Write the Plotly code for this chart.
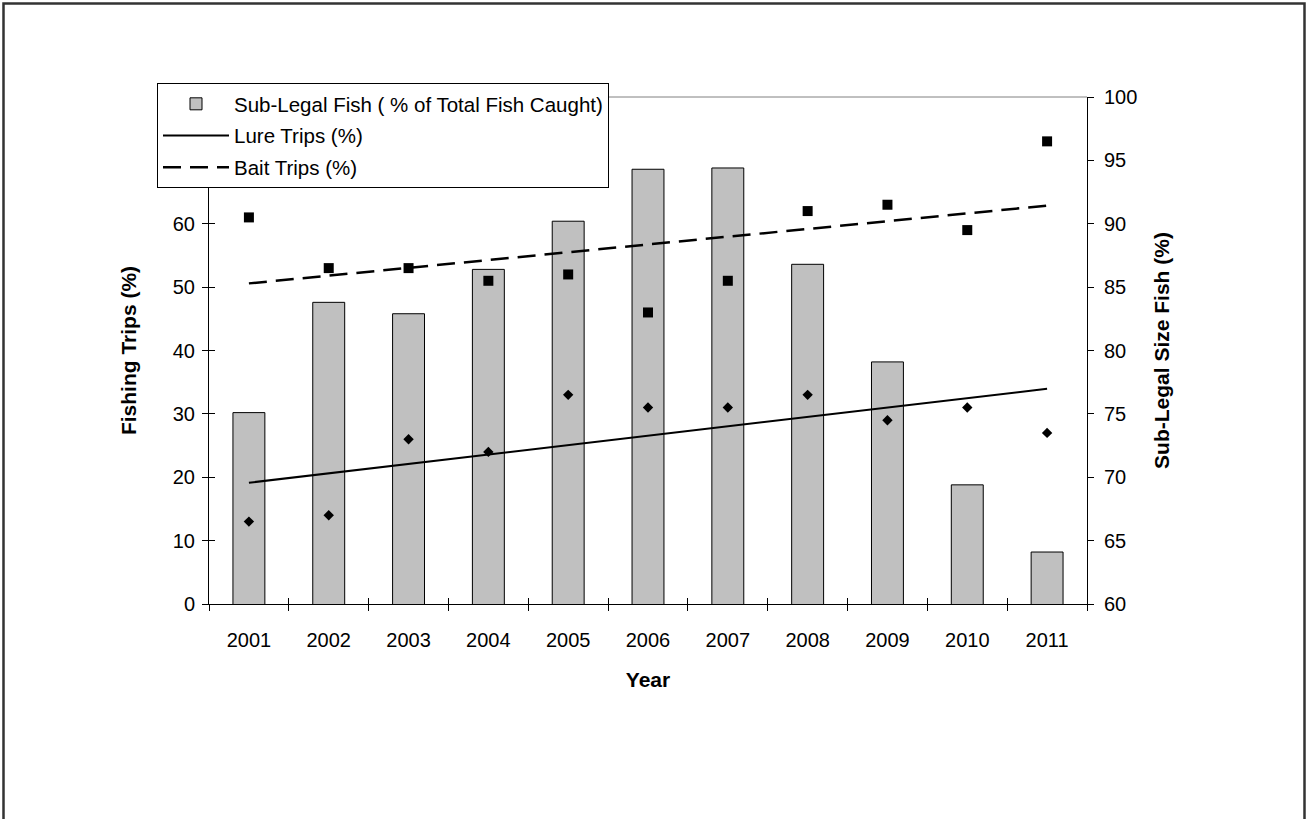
import numpy as np
import plotly.graph_objects as go

# ---- data -------------------------------------------------------------
years = [2001, 2002, 2003, 2004, 2005, 2006, 2007, 2008, 2009, 2010, 2011]
sub_legal_pct = [75.1, 83.8, 82.9, 86.4, 90.2, 94.3, 94.4, 86.8, 79.1, 69.4, 64.1]
lure_trips_pct = [13, 14, 26, 24, 33, 31, 31, 33, 29, 31, 27]
bait_trips_pct = [61, 53, 53, 51, 52, 46, 51, 62, 63, 59, 73]

# linear trendlines through each trip series
yr = np.array(years, dtype=float)
lure_trend = np.polyval(np.polyfit(yr, lure_trips_pct, 1), yr)
bait_trend = np.polyval(np.polyfit(yr, bait_trips_pct, 1), yr)

# category boundaries, where the x-axis tick marks sit
boundaries = [y - 0.5 for y in years] + [years[-1] + 0.5]

FONT = "Arial, Liberation Sans, sans-serif"
W, H = 1307, 819
ML, MR, MT, MB = 209, 220, 97, 215
PW, PH = W - ML - MR, H - MT - MB

fig = go.Figure()

fig.add_trace(go.Bar(
    x=years, y=sub_legal_pct, width=0.4,
    name="Sub-Legal Fish ( % of Total Fish Caught)",
    marker=dict(color="#C0C0C0", line=dict(color="black", width=1)),
    xaxis="x", yaxis="y", legendgroup="a",
))
fig.add_trace(go.Scatter(
    x=years, y=lure_trend, mode="lines", name="Lure Trips (%)",
    line=dict(color="black", width=2),
    xaxis="x", yaxis="y2", legendgroup="b",
))
fig.add_trace(go.Scatter(
    x=years, y=bait_trend, mode="lines", name="Bait Trips (%)",
    line=dict(color="black", width=2.5, dash="18px,9px"),
    xaxis="x", yaxis="y2", legendgroup="c",
))
fig.add_trace(go.Scatter(
    x=years, y=lure_trips_pct, mode="markers", showlegend=False,
    marker=dict(symbol="diamond", size=8, color="black", line=dict(width=0)),
    xaxis="x", yaxis="y2",
))
fig.add_trace(go.Scatter(
    x=years, y=bait_trips_pct, mode="markers", showlegend=False,
    marker=dict(symbol="square", size=10, color="black", line=dict(width=0)),
    xaxis="x", yaxis="y2",
))

# empty traces that register the tick-only overlay axes (crossing ticks)
for xa, ya in (("x2", "y"), ("x3", "y"), ("x", "y3")):
    fig.add_trace(go.Scatter(x=[], y=[], xaxis=xa, yaxis=ya,
                             showlegend=False, hoverinfo="skip"))

xrange = [years[0] - 0.5, years[-1] + 0.5]
tickfont = dict(family=FONT, size=20, color="black")
titlefont = dict(family=FONT, size=21, color="black", weight="bold")
tick_only = dict(showticklabels=False, showline=False, showgrid=False,
                 zeroline=False, ticklen=6, tickcolor="black", tickwidth=1)

fig.update_layout(
    width=W, height=H,
    margin=dict(l=ML, r=MR, t=MT, b=MB, pad=0),
    paper_bgcolor="white", plot_bgcolor="white",
    font=dict(family=FONT, size=20, color="black"),
    showlegend=True,
    legend=dict(
        x=(157 - ML) / PW, y=(604 - 83) / PH, xanchor="left", yanchor="top",
        bgcolor="white", bordercolor="black", borderwidth=1,
        font=dict(family=FONT, size=20.5, color="black"),
        traceorder="grouped", tracegroupgap=2, itemwidth=66,
        entrywidth=385, entrywidthmode="pixels",
    ),
    xaxis=dict(
        range=xrange, tickvals=years, ticktext=[str(y) for y in years],
        ticks="", showline=True, linecolor="black", linewidth=1,
        showgrid=False, zeroline=False, tickfont=tickfont,
        ticklabelstandoff=18, anchor="y",
        title=dict(text="Year", font=titlefont, standoff=22),
    ),
    xaxis2=dict(range=xrange, overlaying="x", anchor="y", side="bottom",
                tickvals=boundaries, ticks="outside", **tick_only),
    xaxis3=dict(range=xrange, overlaying="x", anchor="y", side="bottom",
                tickvals=boundaries, ticks="inside", **tick_only),
    yaxis=dict(
        range=[60, 100], dtick=5, side="right", anchor="x",
        ticks="outside", ticklen=6, tickcolor="black",
        showline=True, linecolor="black", linewidth=1,
        showgrid=False, zeroline=False, tickfont=tickfont,
        ticklabelstandoff=6,
        title=dict(text="Sub-Legal Size Fish (%)", font=titlefont, standoff=17),
    ),
    yaxis2=dict(
        range=[0, 80], dtick=10, side="left", overlaying="y", anchor="x",
        ticks="outside", ticklen=6, tickcolor="black",
        showline=True, linecolor="black", linewidth=1,
        showgrid=False, zeroline=False, tickfont=tickfont,
        ticklabelstandoff=3,
        title=dict(text="Fishing Trips (%)", font=titlefont, standoff=30),
    ),
    yaxis3=dict(range=[0, 80], dtick=10, side="left", overlaying="y",
                anchor="x", ticks="inside", **tick_only),
    shapes=[
        # thin grey top edge of the plot area
        dict(type="line", xref="x domain", yref="y domain",
             x0=0, x1=1, y0=1, y1=1, line=dict(color="#808080", width=1),
             layer="below"),
        # outer chart frame
        dict(type="rect", xref="paper", yref="paper",
             x0=(3.5 - ML) / PW, x1=(1304.5 - ML) / PW,
             y0=(604 - 830) / PH, y1=(604 - 3.5) / PH,
             line=dict(color="#333333", width=2.5), fillcolor="rgba(0,0,0,0)"),
    ],
)

fig.write_html("out.html")
